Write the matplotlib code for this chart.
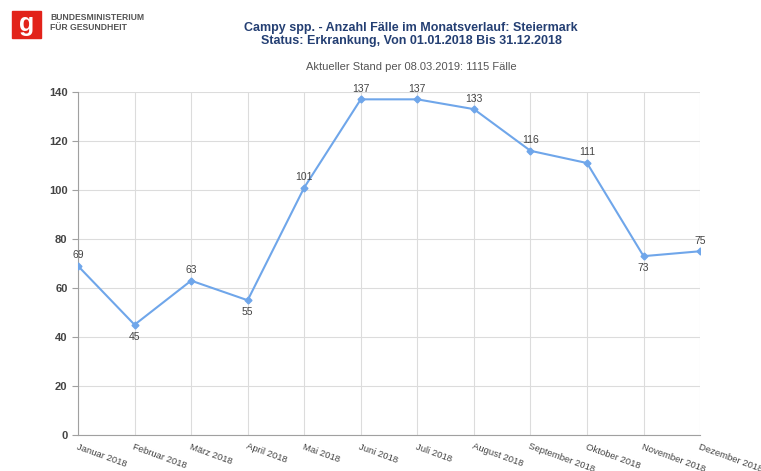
import matplotlib.pyplot as plt
from matplotlib.patches import Rectangle

months = ["Januar 2018", "Februar 2018", "März 2018", "April 2018", "Mai 2018",
          "Juni 2018", "Juli 2018", "August 2018", "September 2018",
          "Oktober 2018", "November 2018", "Dezember 2018"]
cases = [69, 45, 63, 55, 101, 137, 137, 133, 116, 111, 73, 75]
below = [False, True, False, True, False, False, False, False, False, False, True, False]

line_color = "#6fa6ea"
grid_color = "#dcdcdc"
axis_color = "#a0a0a0"
text_color = "#444444"

plt.rcParams["font.family"] = ["Liberation Sans", "DejaVu Sans"]

fig = plt.figure(figsize=(7.61, 4.71), dpi=100)
ax = fig.add_axes([0.1025, 0.0764, 0.8175, 0.7283])

x = list(range(len(months)))
ax.plot(x, cases, color=line_color, lw=1.5, marker="D", ms=3.5,
        mfc=line_color, mec=line_color, zorder=3)

for xi, v, b in zip(x, cases, below):
    if b:
        ax.annotate(str(v), (xi, v), xytext=(0, -5), textcoords="offset points",
                    ha="center", va="top", fontsize=7.5, color=text_color)
    else:
        ax.annotate(str(v), (xi, v), xytext=(0, 4), textcoords="offset points",
                    ha="center", va="bottom", fontsize=7.5, color=text_color)

ax.set_xlim(0, len(months) - 1)
ax.set_ylim(0, 140)
ax.set_yticks(range(0, 141, 20))
ax.set_xticks(x)
ax.set_xticklabels(months, rotation=-20, ha="left", va="top",
                   rotation_mode="anchor", fontsize=6.8, color=text_color)
ax.tick_params(axis="y", labelsize=8, colors=text_color, length=4, color=axis_color)
ax.tick_params(axis="x", length=0, pad=5)
for lbl in ax.get_yticklabels():
    lbl.set_fontweight("bold")

ax.grid(True, color=grid_color, lw=0.8, zorder=0)
ax.set_axisbelow(True)
for side in ["top", "right"]:
    ax.spines[side].set_visible(False)
ax.spines["left"].set_color(axis_color)
ax.spines["bottom"].set_color(axis_color)

# Titles
fig.text(0.54, 0.94, "Campy spp. - Anzahl Fälle im Monatsverlauf: Steiermark",
         ha="center", va="center", fontsize=9, fontweight="bold", color="#243f73")
fig.text(0.54, 0.912, "Status: Erkrankung, Von 01.01.2018 Bis 31.12.2018",
         ha="center", va="center", fontsize=9, fontweight="bold", color="#243f73")
fig.text(0.54, 0.857, "Aktueller Stand per 08.03.2019: 1115 Fälle",
         ha="center", va="center", fontsize=8, color="#555555")

# Ministry logo
fig.patches.append(Rectangle((12 / 761, 1 - 38 / 471), 29 / 761, 27 / 471,
                             transform=fig.transFigure, color="#e2231a", zorder=5))
fig.text(26.5 / 761, 1 - 24 / 471, "g", ha="center", va="center", fontsize=18,
         fontweight="bold", color="white", zorder=6)
fig.text(50 / 761, 1 - 18 / 471, "BUNDESMINISTERIUM", ha="left", va="center",
         fontsize=6.2, fontweight="bold", color="#555555")
fig.text(50 / 761, 1 - 28 / 471, "FÜR GESUNDHEIT", ha="left", va="center",
         fontsize=6.2, fontweight="bold", color="#555555")

fig.savefig("out.png", dpi=100)
